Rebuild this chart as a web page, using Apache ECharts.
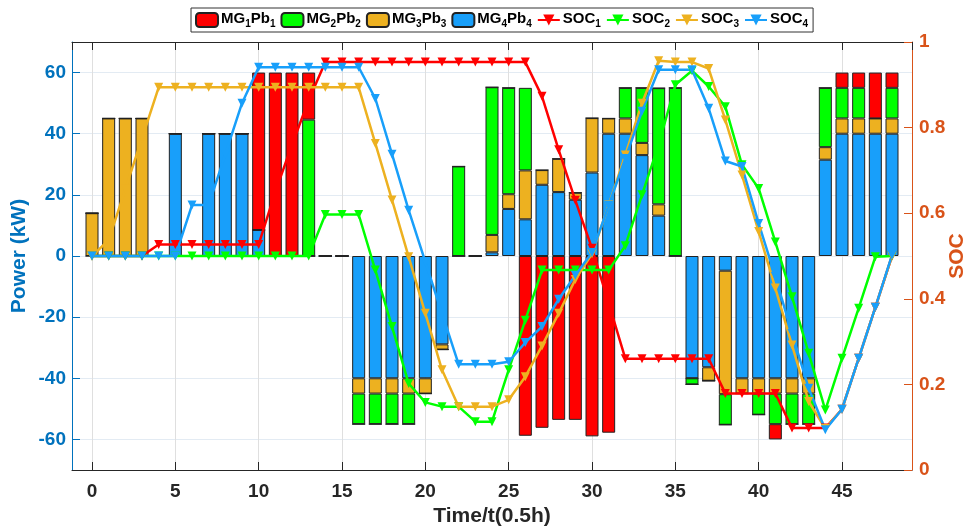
<!DOCTYPE html>
<html>
<head>
<meta charset="utf-8">
<script src="https://cdn.jsdelivr.net/npm/echarts@6/dist/echarts.min.js"></script>
<style>html,body{margin:0;padding:0;background:#fff}#c{width:974px;height:532px}</style>
</head>
<body>
<div id="c"></div>
<script>
// time steps 0..48 (0.5 h each)
var steps = [0,1,2,3,4,5,6,7,8,9,10,11,12,13,14,15,16,17,18,19,20,21,22,23,24,25,26,27,28,29,30,31,32,33,34,35,36,37,38,39,40,41,42,43,44,45,46,47,48];
var xTickLabels = ['0','5','10','15','20','25','30','35','40','45'];
var yLeftTickLabels = ['-60','-40','-20','0','20','40','60'];
var yRightTickLabels = ['0','0.2','0.4','0.6','0.8','1'];

// Power of each microgrid battery (kW)
var MG1Pb1 = [0,0,0,0,0,0,0,0,0,0,51.5,60,60,15.4,0,0,0,0,0,0,0,0,0,0,0,0,-58.8,-56.2,-53.6,-53.6,-59,-57.8,0,0,0,0,0,0,0,0,0,-5,0,0,0,5,5,15,5];
var MG2Pb2 = [0,0,0,0,0,0,0,0,0,0,0,0,0,44.6,0,0,-10,-10,-10,-10,0,0,29.3,0,48.3,34.8,27,0,0,0,0,0,10,18,38,55,-2,0,-10,0,-6.9,-10,-10,-10,19.4,10,10,0,10];
var MG3Pb3 = [14,45,45,45,0,0,0,0,0,0,0,0,0,0,0,0,-5,-5,-5,-5,-5,-1.7,0,0,5.7,4.8,16,4.8,10.9,2.3,17.8,5,5,4,3.7,0,0,-4.4,-40.4,-5,-5,-5,-5,-5,4.1,5,5,5,5];
var MG4Pb4 = [0,0,0,0,0,40,0,40,40,40,8.5,0,0,0,0,0,-40,-40,-40,-40,-40,-28.9,0,0,1.2,15.4,12,23.3,20.9,18.4,27.3,40,40,33,13.2,0,-40,-36.4,-4.8,-40,-40,-40,-40,-40,31.5,40,40,40,40];

// State of charge
var SOC1 = [0.5,0.5,0.5,0.5,0.527,0.527,0.527,0.527,0.527,0.527,0.527,0.65,0.76,0.864,0.953,0.953,0.953,0.953,0.953,0.953,0.953,0.953,0.953,0.953,0.953,0.953,0.953,0.873,0.748,0.63,0.518,0.39,0.26,0.26,0.26,0.26,0.26,0.26,0.179,0.179,0.179,0.179,0.098,0.098,0.098,0.142,0.261,0.38,0.5];
var SOC2 = [0.5,0.5,0.5,0.5,0.5,0.5,0.5,0.5,0.5,0.5,0.5,0.5,0.5,0.5,0.597,0.597,0.597,0.467,0.335,0.202,0.158,0.148,0.148,0.113,0.113,0.234,0.35,0.467,0.467,0.467,0.467,0.467,0.524,0.643,0.76,0.9,0.933,0.896,0.849,0.713,0.658,0.533,0.405,0.273,0.14,0.261,0.378,0.498,0.5];
var SOC3 = [0.5,0.537,0.656,0.775,0.894,0.894,0.894,0.894,0.894,0.894,0.894,0.894,0.894,0.894,0.894,0.894,0.894,0.763,0.631,0.498,0.366,0.234,0.148,0.148,0.148,0.164,0.218,0.29,0.366,0.445,0.505,0.619,0.736,0.857,0.956,0.953,0.953,0.938,0.818,0.689,0.557,0.425,0.292,0.16,0.097,0.142,0.261,0.38,0.5];
var SOC4 = [0.5,0.5,0.5,0.5,0.5,0.5,0.619,0.619,0.738,0.857,0.941,0.941,0.941,0.941,0.941,0.941,0.941,0.868,0.738,0.607,0.486,0.366,0.247,0.247,0.247,0.253,0.298,0.335,0.399,0.455,0.508,0.618,0.728,0.838,0.935,0.935,0.935,0.845,0.722,0.709,0.576,0.452,0.319,0.191,0.094,0.142,0.261,0.38,0.502];

var C_RED = '#ff0000', C_GREEN = '#00ff00', C_ORANGE = '#edb120', C_BLUE = '#189ffa';
var FONT = "'Liberation Sans', Arial, Helvetica, sans-serif";

function linePairs(arr){ return steps.map(function(t,i){ return [t, arr[i]]; }); }
// value first so that the stacked dimension is the power (y) dimension
function barPairs(arr){ return steps.map(function(t,i){ return [arr[i], t]; }); }

function barSeries(name, arr, color){
  return {
    name: name, type: 'bar', stack: 'power', xAxisIndex: 0, yAxisIndex: 0,
    barWidth: 13, data: barPairs(arr), encode: { x: 1, y: 0 },
    itemStyle: { color: color, borderColor: '#222', borderWidth: 1 },
    emphasis: { disabled: true }
  };
}
function lineSeries(name, arr, color){
  return {
    name: name, type: 'line', xAxisIndex: 0, yAxisIndex: 1, data: linePairs(arr),
    symbol: 'triangle', symbolRotate: 180, symbolSize: 9, showSymbol: true,
    lineStyle: { color: color, width: 2.5 }, itemStyle: { color: color },
    emphasis: { disabled: true }, z: 3
  };
}

var legendNames = {
  'MG1Pb1': '{n|MG}{s|1}{n|Pb}{s|1}', 'MG2Pb2': '{n|MG}{s|2}{n|Pb}{s|2}',
  'MG3Pb3': '{n|MG}{s|3}{n|Pb}{s|3}', 'MG4Pb4': '{n|MG}{s|4}{n|Pb}{s|4}',
  'SOC1': '{n|SOC}{s|1}', 'SOC2': '{n|SOC}{s|2}', 'SOC3': '{n|SOC}{s|3}', 'SOC4': '{n|SOC}{s|4}'
};

var chart = echarts.init(document.getElementById('c'), null, { renderer: 'canvas' });
var option = {
  animation: false,
  backgroundColor: '#fff',
  textStyle: { fontFamily: FONT },
  grid: { left: 72, right: 62, top: 42, bottom: 62, containLabel: false, outerBoundsMode: 'none' },
  legend: {
    data: ['MG1Pb1','MG2Pb2','MG3Pb3','MG4Pb4','SOC1','SOC2','SOC3','SOC4'],
    left: 191, top: 8, itemGap: 5, itemWidth: 22, itemHeight: 14,
    padding: [3, 5, 3, 4], borderColor: '#333', borderWidth: 1, backgroundColor: '#fff',
    formatter: function(n){ return legendNames[n]; },
    textStyle: {
      fontFamily: FONT, color: '#000', fontWeight: 'bold', fontSize: 15, padding: [0,0,0,-2],
      rich: {
        n: { fontFamily: FONT, fontWeight: 'bold', fontSize: 15, color: '#000', lineHeight: 18, verticalAlign: 'top' },
        s: { fontFamily: FONT, fontWeight: 'bold', fontSize: 10, color: '#000', lineHeight: 18, verticalAlign: 'bottom', padding: [7,0,0,0] }
      }
    }
  },
  xAxis: [{
    type: 'value', position: 'bottom', min: -1.2, max: 49.2, splitNumber: 10, minInterval: 5, maxInterval: 5,
    name: 'Time/t(0.5h)', nameLocation: 'middle', nameGap: 36,
    nameTextStyle: { fontFamily: FONT, fontWeight: 'bold', fontSize: 21, color: '#262626' },
    axisLine: { onZero: false, lineStyle: { color: '#262626', width: 1 } },
    axisTick: { inside: true, length: 8, lineStyle: { color: '#262626' } },
    axisLabel: { showMinLabel: false, showMaxLabel: false, margin: 12, fontFamily: FONT, fontWeight: 'bold', fontSize: 19, color: '#262626' },
    splitLine: { show: true, lineStyle: { color: '#dfdfdf', width: 1 } }
  }, {
    type: 'value', position: 'top', min: -1.2, max: 49.2, splitNumber: 10, minInterval: 5, maxInterval: 5,
    axisLine: { onZero: false, lineStyle: { color: '#262626', width: 1 } },
    axisTick: { inside: true, length: 8, lineStyle: { color: '#262626' } },
    axisLabel: { show: false }, splitLine: { show: false }
  }],
  yAxis: [{
    type: 'value', position: 'left', min: -70, max: 70, splitNumber: 7, minInterval: 20, maxInterval: 20,
    name: 'Power (kW)', nameLocation: 'middle', nameGap: 42, nameRotate: 90, nameMoveOverlap: false,
    nameTextStyle: { fontFamily: FONT, fontWeight: 'bold', fontSize: 21, color: '#0072bd' },
    axisLine: { onZero: false, lineStyle: { color: '#0072bd', width: 1 } },
    axisTick: { inside: true, length: 8, lineStyle: { color: '#0072bd' } },
    axisLabel: { showMinLabel: false, showMaxLabel: false, margin: 6, fontFamily: FONT, fontWeight: 'bold', fontSize: 19, color: '#0072bd' },
    splitLine: { show: true, lineStyle: { color: '#e3ebf3', width: 1 } }
  }, {
    type: 'value', position: 'right', min: 0, max: 1, interval: 0.2,
    name: 'SOC', nameLocation: 'middle', nameGap: 35, nameRotate: 90, nameMoveOverlap: false,
    nameTextStyle: { fontFamily: FONT, fontWeight: 'bold', fontSize: 21, color: '#d95319' },
    axisLine: { onZero: false, lineStyle: { color: '#d95319', width: 1 } },
    axisTick: { inside: true, length: 8, lineStyle: { color: '#d95319' } },
    axisLabel: { margin: 7, fontFamily: FONT, fontWeight: 'bold', fontSize: 19, color: '#d95319',
      formatter: function(v){ return String(Math.round(v*10)/10); } },
    splitLine: { show: false }
  }],
  series: [
    barSeries('MG4Pb4', MG4Pb4, C_BLUE),
    barSeries('MG3Pb3', MG3Pb3, C_ORANGE),
    barSeries('MG2Pb2', MG2Pb2, C_GREEN),
    barSeries('MG1Pb1', MG1Pb1, C_RED),
    lineSeries('SOC1', SOC1, C_RED),
    lineSeries('SOC2', SOC2, C_GREEN),
    lineSeries('SOC3', SOC3, C_ORANGE),
    lineSeries('SOC4', SOC4, C_BLUE)
  ]
};
chart.setOption(option);
</script>
</body>
</html>
